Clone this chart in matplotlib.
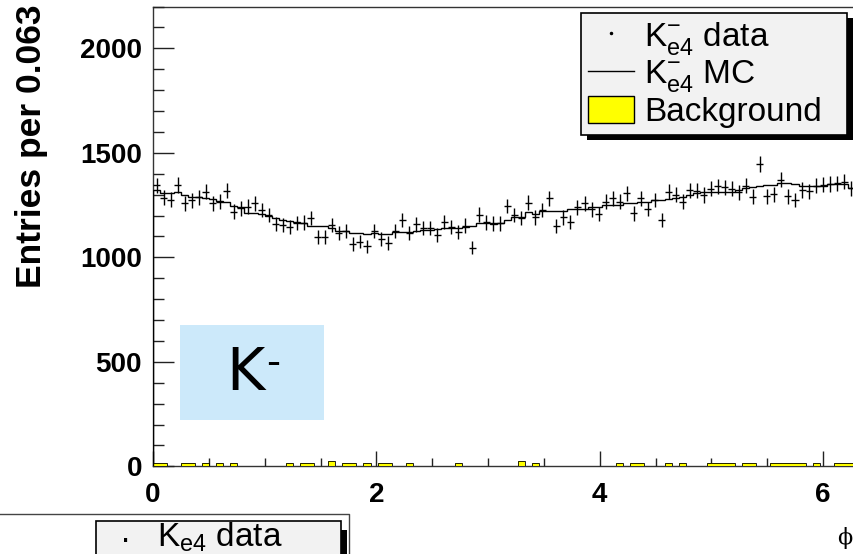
import numpy as np
import matplotlib
matplotlib.use("Agg")
import matplotlib.pyplot as plt
from matplotlib.patches import Rectangle
from matplotlib.lines import Line2D
from matplotlib.ticker import MultipleLocator

plt.rcParams['font.family'] = ['Liberation Sans', 'DejaVu Sans']

# phi distribution, 100 bins over [0, 2pi]
n_bins = 100
phi_min, phi_max = 0.0, 2 * np.pi

data_counts = [
    1345, 1285, 1275, 1346, 1259, 1273, 1288, 1314, 1258, 1266,
    1319, 1218, 1234, 1242, 1258, 1226, 1202, 1160, 1155, 1145,
    1165, 1166, 1187, 1096, 1096, 1155, 1115, 1127, 1063, 1075,
    1052, 1125, 1088, 1067, 1126, 1177, 1118, 1157, 1139, 1139,
    1105, 1170, 1145, 1119, 1152, 1046, 1204, 1167, 1162, 1162,
    1245, 1202, 1187, 1261, 1191, 1226, 1282, 1150, 1191, 1170,
    1239, 1258, 1230, 1207, 1266, 1282, 1266, 1306, 1210, 1282,
    1231, 1274, 1178, 1314, 1300, 1266, 1320, 1319, 1298, 1328,
    1340, 1334, 1328, 1312, 1342, 1290, 1448, 1293, 1302, 1371,
    1292, 1274, 1322, 1316, 1342, 1348, 1350, 1354, 1362, 1330,
]

mc_counts = [
    1320, 1306, 1306, 1311, 1300, 1290, 1290, 1285, 1279, 1270,
    1263, 1245, 1240, 1210, 1212, 1205, 1200, 1187, 1180, 1175,
    1170, 1165, 1150, 1150, 1150, 1140, 1127, 1125, 1115, 1115,
    1112, 1118, 1110, 1112, 1120, 1120, 1122, 1125, 1130, 1130,
    1135, 1140, 1139, 1142, 1145, 1150, 1163, 1163, 1160, 1165,
    1178, 1194, 1194, 1218, 1205, 1220, 1220, 1220, 1220, 1230,
    1230, 1230, 1240, 1240, 1250, 1250, 1250, 1258, 1258, 1266,
    1266, 1272, 1272, 1280, 1285, 1290, 1300, 1310, 1314, 1314,
    1314, 1314, 1314, 1320, 1330, 1338, 1340, 1346, 1346, 1354,
    1354, 1350, 1341, 1341, 1341, 1341, 1349, 1349, 1349, 1330,
]

bg_counts = [
    14, 14, 0, 0, 14, 14, 0, 14, 0, 14,
    0, 14, 0, 0, 0, 0, 0, 0, 0, 14,
    0, 14, 14, 0, 0, 24, 0, 14, 14, 0,
    14, 0, 14, 14, 0, 0, 14, 0, 0, 0,
    0, 0, 0, 14, 0, 0, 0, 0, 0, 0,
    0, 0, 24, 0, 16, 0, 0, 0, 0, 0,
    0, 0, 0, 0, 0, 0, 14, 0, 14, 14,
    0, 0, 0, 14, 0, 14, 0, 0, 0, 14,
    14, 14, 14, 0, 14, 14, 0, 0, 14, 14,
    14, 14, 14, 0, 16, 0, 0, 14, 14, 14,
]

x_ticks = [0, 2, 4, 6]
y_ticks = [0, 500, 1000, 1500, 2000]
y_max = 2200

edges = np.linspace(phi_min, phi_max, n_bins + 1)
centers = 0.5 * (edges[:-1] + edges[1:])
half_width = 0.5 * np.diff(edges)
data = np.asarray(data_counts, dtype=float)
data_err = np.sqrt(data)

W, H = 854, 554
fig = plt.figure(figsize=(W / 100, H / 100), dpi=100)
fig.patch.set_facecolor('white')

px_per_unit = 111.67
px_per_count = 0.209
ax = fig.add_axes([153 / W, 87.7 / H, phi_max * px_per_unit / W, y_max * px_per_count / H])
ax.set_facecolor('none')

# background (filled), MC (line) and data (error crosses)
ax.stairs(bg_counts, edges, fill=True, facecolor='#ffff00', edgecolor='none', zorder=2)
ax.stairs(bg_counts, edges, color='black', linewidth=0.6, zorder=2.1)
ax.stairs(mc_counts, edges, color='black', linewidth=1.0, zorder=3)
ax.errorbar(centers, data, xerr=half_width, yerr=data_err, fmt='none',
            ecolor='black', elinewidth=1.0, capsize=0, zorder=4)

ax.set_xlim(phi_min, phi_max)
ax.set_ylim(0, y_max)

for s in ax.spines.values():
    s.set_color('#333333')
    s.set_linewidth(1.0)
    s.set_zorder(1.5)

ax.set_xticks(x_ticks, [str(t) for t in x_ticks], fontweight='bold', fontsize=20)
ax.set_yticks(y_ticks, [str(t) for t in y_ticks], fontweight='bold', fontsize=20)
ax.xaxis.set_minor_locator(MultipleLocator(0.5))
ax.yaxis.set_minor_locator(MultipleLocator(100))
ax.tick_params(axis='y', which='major', direction='in', length=15, width=1.0, pad=8, color='#222222')
ax.tick_params(axis='y', which='minor', direction='in', length=8, width=1.0, color='#222222')
ax.tick_params(axis='x', which='major', direction='in', length=11, width=1.0, pad=11, color='#222222')
ax.tick_params(axis='x', which='minor', direction='in', length=5.5, width=1.0, color='#222222')

fig.text(31.5 / W, 1 - 5 / H, 'Entries per 0.063', rotation=90, ha='center', va='top',
         fontsize=25.5, fontweight='bold')
fig.text(845 / W, 1 - 538 / H, '\u03d5', family='DejaVu Serif', fontsize=16,
         ha='center', va='center')

# legend
handles = [
    Line2D([], [], linestyle='none', marker='.', markersize=3, color='black'),
    Line2D([], [], color='black', linewidth=1.0),
    Rectangle((0, 0), 1, 1, facecolor='#ffff00', edgecolor='black', linewidth=1.0),
]
labels = [r'$\mathregular{K_{e4}^{-}}$ data', r'$\mathregular{K_{e4}^{-}}$ MC', 'Background']
leg = ax.legend(handles, labels, loc='upper left',
                bbox_to_anchor=(581 / W, 1 - 134 / H, 266 / W, 121 / H),
                bbox_transform=fig.transFigure, mode='expand', fontsize=24,
                frameon=True, fancybox=False, edgecolor='black', facecolor='#f2f2f2',
                framealpha=1, borderpad=0.2, labelspacing=0.05, handlelength=1.4,
                handleheight=0.85, handletextpad=0.3, borderaxespad=0)
leg.get_frame().set_linewidth(1.2)
leg.set_zorder(10)

fig.canvas.draw()
bb = leg.get_window_extent()
ax.add_patch(Rectangle(((bb.x0 + 6) / W, (bb.y0 - 5) / H), bb.width / W, bb.height / H,
                       transform=fig.transFigure, facecolor='black', edgecolor='none',
                       clip_on=False, zorder=9))

# charge label
fig.add_artist(Rectangle((180 / W, 1 - 420 / H), 144 / W, 95 / H, transform=fig.transFigure,
                         facecolor='#cce9fa', edgecolor='none'))
fig.text(245 / W, 1 - 373 / H, 'K', fontsize=42, ha='center', va='center', family='DejaVu Sans')
fig.text(273 / W, 1 - 363 / H, '-', fontsize=28, ha='center', va='center', family='DejaVu Sans')

# top edge of the next pad
fig.add_artist(Line2D([0, 349 / W, 349 / W], [1 - 514 / H, 1 - 514 / H, 0],
                      transform=fig.transFigure, color='#444444', linewidth=1.0))
fig.add_artist(Rectangle((341 / W, 0), 6 / W, 1 - 530 / H, transform=fig.transFigure,
                         facecolor='black', edgecolor='none'))
fig.add_artist(Rectangle((96 / W, -0.05), 245 / W, 1 - 521 / H + 0.05, transform=fig.transFigure,
                         facecolor='#f2f2f2', edgecolor='black', linewidth=1.2))
fig.text(126 / W, 1 - 540 / H, '\u00b7', fontsize=24, ha='center', va='center')
fig.text(157 / W, 1 - 547 / H, r'$\mathregular{K_{e4}}$ data', fontsize=24, ha='left', va='baseline')

fig.savefig('out.png', dpi=100)
